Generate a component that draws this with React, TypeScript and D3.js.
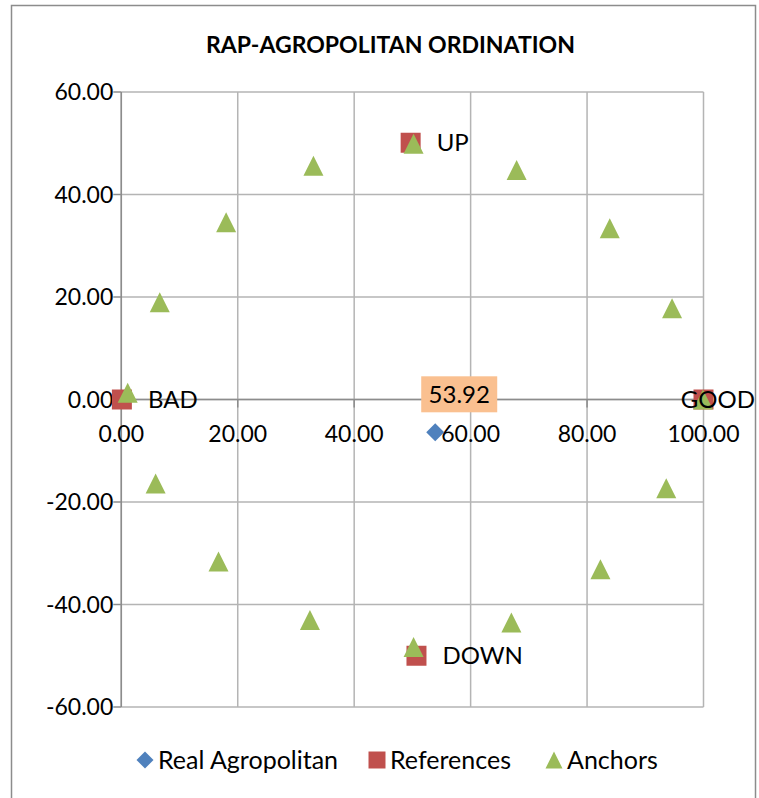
import { useEffect, useRef } from "react";
import * as d3 from "d3";

// chart values
const xTicks = [0, 20, 40, 60, 80, 100];
const yTicks = [-60, -40, -20, 0, 20, 40, 60];

const realNames = ["Real Agropolitan"];
const realX = [53.92];
const realY = [-6.4];

const refNames = ["BAD", "GOOD", "UP", "DOWN"];
const refX = [0.1, 100, 49.7, 50.7];
const refY = [0, 0, 50.1, -50.0];

const anchorX = [1.1, 6.6, 18.0, 33.0, 50.2, 67.9, 83.9, 94.6, 99.9, 93.6, 82.3, 67.0, 50.2, 32.4, 16.7, 5.9];
const anchorY = [1.3, 19.0, 34.6, 45.6, 49.9, 44.8, 33.4, 17.8, 0.0, -17.3, -33.1, -43.5, -48.3, -43.0, -31.6, -16.4];

const legendNames = ["Real Agropolitan", "References", "Anchors"];

const W = 759;
const H = 798;
const FONT = "Lato, 'Open Sans', sans-serif";
const BLUE = "#4F81BD";
const RED = "#C0504D";
const GREEN = "#9BBB59";

const triPath = (s: number) => `M0,${-s / 2}L${s / 2},${s / 2}L${-s / 2},${s / 2}Z`;
const diaPath = (s: number) => `M0,${-s / 2}L${s / 2},0L0,${s / 2}L${-s / 2},0Z`;
const sqPath = (s: number) => `M${-s / 2},${-s / 2}h${s}v${s}h${-s}Z`;

export default function App() {
  const ref = useRef<SVGSVGElement>(null);

  useEffect(() => {
    const svg = d3.select(ref.current);
    svg.selectAll("*").remove();

    const x = d3.scaleLinear().domain([0, 100]).range([121.3, 703.5]);
    const y = d3.scaleLinear().domain([-60, 60]).range([707, 92]);
    const fmt = d3.formatLocale({
      decimal: ".", thousands: ",", grouping: [3], currency: ["", ""], minus: "-",
    }).format(".2f");

    svg.append("rect").attr("width", W).attr("height", H).attr("fill", "#fff");
    // chart border
    svg.append("rect")
      .attr("x", 11.5).attr("y", 5.5).attr("width", 744).attr("height", 820)
      .attr("fill", "none").attr("stroke", "#8c8c8c").attr("stroke-width", 1.5);

    svg.append("text")
      .attr("x", 390.5).attr("y", 53)
      .attr("text-anchor", "middle")
      .attr("font-family", FONT).attr("font-weight", "bold").attr("font-size", 23)
      .attr("textLength", 369).attr("lengthAdjust", "spacingAndGlyphs")
      .text("RAP-AGROPOLITAN ORDINATION");

    // gridlines
    const grid = svg.append("g").attr("stroke", "#b4b4b4").attr("stroke-width", 1.5);
    grid.selectAll(".gx").data(xTicks).join("line")
      .attr("x1", d => x(d)).attr("x2", d => x(d))
      .attr("y1", y(60)).attr("y2", y(-60));
    grid.selectAll(".gy").data(yTicks).join("line")
      .attr("y1", d => y(d)).attr("y2", d => y(d))
      .attr("x1", x(0)).attr("x2", x(100));

    // axes
    const ax = svg.append("g").attr("stroke", "#8c8c8c").attr("stroke-width", 1.5);
    ax.append("line").attr("x1", x(0)).attr("x2", x(0)).attr("y1", y(60)).attr("y2", y(-60));
    ax.append("line").attr("x1", x(0)).attr("x2", x(100)).attr("y1", y(0)).attr("y2", y(0));
    ax.selectAll(".ty").data(yTicks).join("line")
      .attr("x1", x(0) - 8).attr("x2", x(0))
      .attr("y1", d => y(d)).attr("y2", d => y(d));
    ax.selectAll(".tx").data(xTicks).join("line")
      .attr("x1", d => x(d)).attr("x2", d => x(d))
      .attr("y1", y(0)).attr("y2", y(0) + 8);

    const lbl = svg.append("g").attr("font-family", FONT).attr("font-size", 23).attr("fill", "#000");
    lbl.selectAll(".ly").data(yTicks).join("text")
      .attr("x", x(0) - 8).attr("y", d => y(d))
      .attr("dy", "0.35em").attr("text-anchor", "end")
      .text(d => fmt(d));
    lbl.selectAll(".lx").data(xTicks).join("text")
      .attr("x", d => x(d)).attr("y", y(0) + 34)
      .attr("dy", "0.35em").attr("text-anchor", "middle")
      .text(d => fmt(d));

    // references (squares)
    const refs = refX.map((v, i) => ({ x: v, y: refY[i], name: refNames[i] }));
    svg.append("g").selectAll("path").data(refs).join("path")
      .attr("d", sqPath(20)).attr("fill", RED)
      .attr("transform", d => `translate(${x(d.x)},${y(d.y)})`);

    // anchors (triangles)
    const anchors = anchorX.map((v, i) => ({ x: v, y: anchorY[i] }));
    svg.append("g").selectAll("path").data(anchors).join("path")
      .attr("d", triPath(20)).attr("fill", GREEN)
      .attr("transform", d => `translate(${x(d.x)},${y(d.y)})`);

    // reference names on top of the markers, pushed left if they'd run off the edge
    svg.append("g").attr("font-family", FONT).attr("font-size", 24)
      .selectAll("text").data(refs).join("text")
      .attr("y", d => y(d.y))
      .attr("dy", "0.35em")
      .text(d => d.name)
      .each(function (d) {
        const w = (this as SVGTextElement).getComputedTextLength();
        d3.select(this).attr("x", Math.min(x(d.x) + 26, W - w - 4));
      });

    // real agropolitan point + value label
    const real = realX.map((v, i) => ({ x: v, y: realY[i], name: realNames[i] }));
    const rg = svg.append("g");
    rg.selectAll("path").data(real).join("path")
      .attr("d", diaPath(18)).attr("fill", BLUE)
      .attr("transform", d => `translate(${x(d.x)},${y(d.y)})`);
    const tag = rg.selectAll("g").data(real).join("g")
      .attr("transform", d => `translate(${x(d.x) + 24},${y(d.y) - 38})`);
    tag.append("rect")
      .attr("x", -38).attr("y", -18).attr("width", 76).attr("height", 36)
      .attr("fill", "#FAC090");
    tag.append("text")
      .attr("text-anchor", "middle").attr("dy", "0.35em")
      .attr("font-family", FONT).attr("font-size", 24)
      .text(d => fmt(d.x));

    // legend
    const legX = [145, 377, 554];
    const legPaths = [diaPath(17), sqPath(17), triPath(17)];
    const legCols = [BLUE, RED, GREEN];
    const leg = svg.append("g").attr("transform", "translate(0,760)");
    const items = leg.selectAll("g").data(legendNames).join("g")
      .attr("transform", (_, i) => `translate(${legX[i]},0)`);
    items.append("path").attr("d", (_, i) => legPaths[i]).attr("fill", (_, i) => legCols[i]);
    items.append("text")
      .attr("x", 13).attr("dy", "0.35em")
      .attr("font-family", FONT).attr("font-size", 25)
      .text(d => d);
  }, []);

  return (
    <div style={{ position: "absolute", left: 0, top: 0 }}>
      <svg ref={ref} width={W} height={H} style={{ display: "block" }} />
    </div>
  );
}
